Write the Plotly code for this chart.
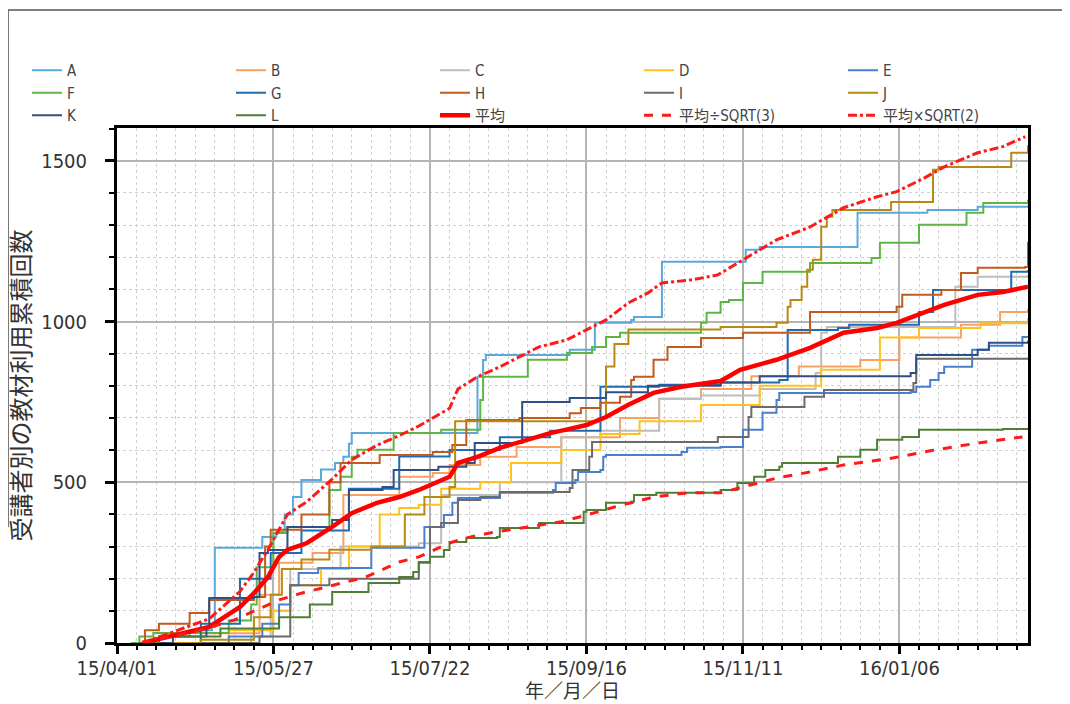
import plotly.graph_objects as go
import pandas as pd

START = pd.Timestamp("2015-04-01")

# days since 2015-04-01 and cumulative counts (value after each step)
A_days = [8, 15, 26, 34, 35, 52, 57, 60, 63, 66, 73, 78, 81, 83, 84, 129, 131, 132, 162, 171, 184, 185, 195, 225, 230, 265, 290, 308, 326]
A_vals = [0, 20, 40, 50, 296, 330, 345, 400, 454, 507, 540, 560, 579, 620, 653, 828, 880, 896, 912, 996, 1005, 1014, 1186, 1223, 1232, 1338, 1347, 1357, 1362]

B_days = [8, 30, 51, 58, 70, 81, 101, 113, 119, 130, 143, 159, 180, 194, 209, 227, 244, 266, 280, 302, 316, 326]
B_vals = [0, 30, 150, 250, 280, 460, 517, 529, 554, 579, 610, 640, 700, 760, 790, 830, 860, 880, 950, 990, 1030, 1040]

C_days = [8, 48, 55, 62, 80, 108, 116, 137, 159, 173, 194, 209, 230, 250, 252, 254, 300, 308, 326]
C_vals = [0, 20, 100, 230, 300, 310, 460, 500, 640, 660, 760, 770, 790, 840, 965, 983, 1108, 1139, 1145]

D_days = [8, 40, 56, 62, 73, 83, 94, 101, 108, 116, 130, 141, 159, 173, 187, 209, 230, 252, 273, 287, 309, 326]
D_vals = [0, 40, 100, 180, 230, 300, 400, 420, 430, 480, 500, 560, 600, 650, 690, 740, 800, 850, 950, 980, 995, 1010]

E_days = [8, 40, 52, 58, 62, 65, 72, 91, 110, 117, 120, 122, 137, 156, 157, 164, 165, 173, 174, 175, 202, 204, 216, 224, 231, 236, 237, 284, 286, 291, 294, 296, 306, 312, 324, 326]
E_vals = [0, 20, 60, 120, 180, 218, 233, 296, 361, 398, 436, 451, 467, 476, 498, 507, 532, 538, 579, 585, 594, 607, 610, 663, 716, 756, 778, 781, 797, 818, 840, 859, 912, 925, 952, 955]

F_days = [5, 8, 13, 40, 48, 50, 56, 61, 76, 80, 84, 86, 99, 116, 130, 131, 147, 161, 170, 175, 180, 209, 211, 216, 219, 224, 231, 248, 270, 273, 287, 304, 310, 326]
F_vals = [0, 20, 31, 70, 120, 236, 342, 361, 476, 517, 579, 601, 653, 663, 756, 828, 881, 902, 921, 952, 965, 996, 1027, 1061, 1067, 1120, 1155, 1182, 1198, 1245, 1301, 1338, 1369, 1379]

G_days = [8, 30, 44, 55, 66, 83, 101, 119, 137, 155, 173, 194, 216, 237, 240, 258, 262, 287, 292, 320, 326]
G_vals = [0, 60, 200, 280, 350, 480, 580, 600, 640, 660, 797, 803, 810, 818, 974, 980, 990, 1030, 1098, 1155, 1160]

H_days = [8, 10, 15, 26, 33, 49, 53, 55, 66, 76, 80, 94, 113, 120, 125, 144, 162, 166, 173, 180, 184, 185, 192, 197, 209, 224, 248, 279, 281, 295, 302, 308, 325, 326]
H_vals = [0, 40, 60, 93, 134, 143, 300, 352, 400, 500, 560, 585, 594, 616, 694, 700, 715, 731, 747, 766, 818, 828, 881, 921, 949, 965, 1030, 1046, 1083, 1098, 1151, 1167, 1170, 1248]

I_days = [8, 51, 62, 76, 108, 112, 116, 122, 130, 137, 162, 163, 169, 170, 215, 216, 226, 227, 246, 253, 284, 285, 286, 326]
I_vals = [0, 20, 180, 200, 252, 361, 373, 445, 454, 470, 482, 538, 579, 625, 641, 641, 703, 734, 766, 787, 787, 809, 884, 886]

J_days = [8, 30, 49, 55, 59, 66, 76, 91, 103, 110, 119, 121, 173, 175, 178, 183, 216, 236, 240, 241, 245, 247, 249, 252, 254, 256, 277, 292, 294, 320, 326]
J_vals = [0, 10, 80, 150, 230, 260, 290, 300, 400, 454, 485, 690, 700, 860, 930, 975, 983, 996, 1046, 1067, 1108, 1161, 1192, 1295, 1326, 1347, 1372, 1472, 1481, 1525, 1548]

K_days = [8, 20, 32, 33, 49, 51, 54, 61, 77, 83, 95, 99, 115, 125, 128, 144, 145, 162, 175, 190, 216, 230, 244, 284, 286, 308, 312, 326]
K_vals = [0, 20, 50, 140, 143, 280, 289, 361, 383, 476, 485, 538, 548, 560, 622, 622, 750, 762, 780, 800, 810, 830, 830, 840, 896, 912, 934, 940]

L_days = [8, 15, 37, 58, 69, 77, 90, 101, 106, 108, 112, 117, 119, 125, 136, 137, 150, 151, 162, 167, 168, 175, 184, 185, 193, 216, 222, 228, 232, 237, 238, 252, 258, 266, 272, 281, 287, 317, 326]
L_vals = [0, 20, 45, 80, 120, 159, 187, 205, 221, 250, 268, 289, 314, 327, 330, 358, 358, 373, 373, 408, 414, 436, 439, 460, 467, 476, 498, 517, 538, 548, 560, 560, 579, 601, 632, 641, 663, 666, 669]

AVG_days = [9, 33, 44, 49, 54, 58, 61, 68, 77, 84, 93, 101, 108, 119, 122, 129, 137, 147, 155, 162, 168, 175, 183, 192, 202, 216, 223, 236, 248, 260, 272, 279, 289, 296, 308, 317, 326]
AVG_vals = [0, 50, 112, 155, 205, 268, 290, 311, 361, 404, 436, 454, 476, 517, 560, 579, 607, 632, 653, 666, 678, 703, 741, 778, 797, 815, 850, 881, 918, 965, 980, 996, 1027, 1052, 1083, 1092, 1108]

DIV3_days = [9, 30, 42, 58, 66, 89, 101, 108, 112, 119, 125, 135, 147, 159, 168, 178, 192, 204, 216, 224, 236, 248, 260, 278, 291, 308, 324]
DIV3_vals = [0, 40, 72, 134, 155, 205, 252, 268, 283, 311, 327, 345, 361, 377, 398, 423, 454, 467, 467, 486, 513, 532, 554, 576, 598, 622, 641]

MUL2_days = [9, 33, 44, 49, 54, 61, 68, 77, 84, 93, 101, 108, 119, 122, 129, 137, 151, 161, 168, 175, 183, 190, 195, 206, 215, 224, 236, 248, 260, 272, 279, 289, 296, 308, 317, 325]
MUL2_vals = [0, 75, 160, 220, 290, 400, 440, 510, 570, 615, 645, 675, 730, 790, 828, 859, 921, 943, 974, 1005, 1058, 1089, 1120, 1130, 1145, 1192, 1254, 1294, 1354, 1388, 1404, 1447, 1481, 1525, 1544, 1575]

SERIES = [
    ("A", A_days, A_vals, "#5ba8dc"),
    ("B", B_days, B_vals, "#f9a065"),
    ("C", C_days, C_vals, "#bdbdbd"),
    ("D", D_days, D_vals, "#ffc21a"),
    ("E", E_days, E_vals, "#4a7fd0"),
    ("F", F_days, F_vals, "#5cb646"),
    ("G", G_days, G_vals, "#1f6cb0"),
    ("H", H_days, H_vals, "#c35a1e"),
    ("I", I_days, I_vals, "#6b6b6b"),
    ("J", J_days, J_vals, "#b88a12"),
    ("K", K_days, K_vals, "#2f4f86"),
    ("L", L_days, L_vals, "#4f7f35"),
]


def to_dates(days):
    return [START + pd.Timedelta(days=d) for d in days]


FONT = "Liberation Sans Narrow, DejaVu Sans Condensed, Liberation Sans, Noto Sans CJK JP, sans-serif"

fig = go.Figure()
for name, d, v, col in SERIES:
    fig.add_trace(go.Scatter(x=to_dates(d), y=v, name=name, mode="lines",
                             line=dict(color=col, width=2, shape="hv")))

fig.add_trace(go.Scatter(x=to_dates(AVG_days), y=AVG_vals, name="平均", mode="lines",
                         line=dict(color="#ff0000", width=4.5)))
fig.add_trace(go.Scatter(x=to_dates(DIV3_days), y=DIV3_vals, name="平均÷SQRT(3)", mode="lines",
                         line=dict(color="#ff1a1a", width=3, dash="dash")))
fig.add_trace(go.Scatter(x=to_dates(MUL2_days), y=MUL2_vals, name="平均×SQRT(2)", mode="lines",
                         line=dict(color="#ff1a1a", width=3, dash="dashdot")))

fig.update_layout(
    width=1062, height=696,
    margin=dict(l=109, r=42, t=120, b=61, autoexpand=False),
    paper_bgcolor="white", plot_bgcolor="white",
    font=dict(family=FONT, size=18, color="#333333"),
    showlegend=True,
    legend=dict(orientation="h", x=-0.0988, xanchor="left", y=1.1437, yanchor="top",
                entrywidth=159, font=dict(size=15, color="#444444"),
                bgcolor="rgba(0,0,0,0)", tracegroupgap=0, itemwidth=30),
    xaxis=dict(
        type="date", range=["2015-04-01", "2016-02-21"], automargin=False,
        tick0="2015-04-01", dtick=56 * 86400000, tickformat="%y/%m/%d",
        showgrid=True, gridcolor="#b4b4b4", gridwidth=1.5,
        showline=True, linecolor="black", linewidth=3, mirror=True,
        ticks="outside", ticklen=8, tickwidth=2.5, tickcolor="black",
        ticklabelstandoff=-3,
        tickfont=dict(size=20, color="#333333"),
        minor=dict(dtick=7 * 86400000, tick0="2015-04-01", showgrid=True,
                   gridcolor="#d0d0d0", griddash="dot", gridwidth=1,
                   ticks="outside", ticklen=4, tickwidth=2, tickcolor="black"),
        title=dict(text="年／月／日", font=dict(size=19, color="#333333"), standoff=0),
    ),
    yaxis=dict(
        range=[0, 1602], dtick=500, tick0=0, automargin=False,
        showgrid=True, gridcolor="#b4b4b4", gridwidth=1.5, zeroline=False,
        showline=True, linecolor="black", linewidth=3, mirror=True,
        ticks="outside", ticklen=9, tickwidth=2.5, tickcolor="black",
        ticklabelstandoff=14,
        tickfont=dict(size=20, color="#333333"),
        minor=dict(dtick=100, showgrid=True, gridcolor="#d0d0d0", griddash="dot",
                   gridwidth=1, ticks="outside", ticklen=5, tickwidth=2, tickcolor="black"),
        title=dict(text="受講者別の教材利用累積回数", font=dict(size=24, color="#333333"), standoff=4),
    ),
    shapes=[
        dict(type="line", xref="paper", yref="paper", x0=-0.1196, x1=1.06, y0=1.229, y1=1.229,
             line=dict(color="#555555", width=1.5)),
        dict(type="line", xref="paper", yref="paper", x0=-0.1196, x1=-0.1196, y0=1.229, y1=0.225,
             line=dict(color="#555555", width=1.5)),
    ],
)

fig.write_html("out.html")
